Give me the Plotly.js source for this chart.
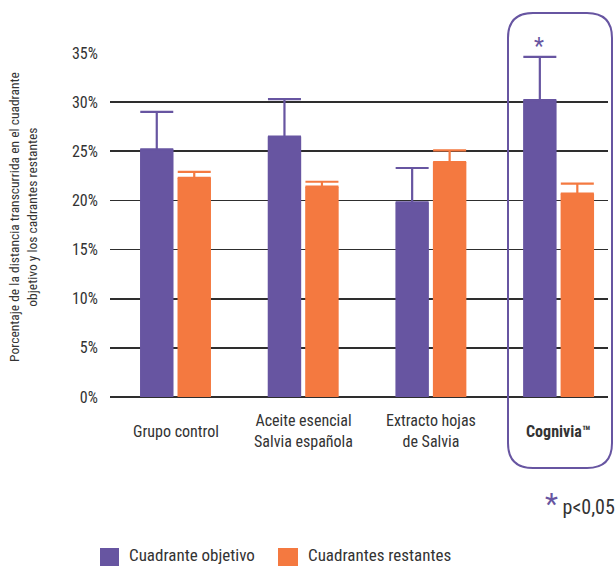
<!DOCTYPE html>
<html>
<head>
<meta charset="utf-8">
<script src="https://cdn.plot.ly/plotly-3.0.1.min.js"></script>
<style>
html,body{margin:0;padding:0;background:#fff;}
#chart{width:616px;height:567px;}
</style>
</head>
<body>
<div id="chart"></div>
<script>
var categories = ['Grupo control', 'Aceite esencial Salvia española', 'Extracto hojas de Salvia', 'Cognivia™'];
var categoryLabels = ['Grupo control', 'Aceite esencial<br>Salvia española', 'Extracto hojas<br>de Salvia', '<b>Cognivia™</b>'];
var objetivo = [25.2, 26.5, 19.8, 30.2];
var objetivoErr = [3.8, 3.8, 3.5, 4.4];
var restantes = [22.3, 21.4, 23.9, 20.7];
var restantesErr = [0.6, 0.5, 1.2, 1.0];
var seriesNames = ['Cuadrante objetivo', 'Cuadrantes restantes'];
var yTickVals = [0, 5, 10, 15, 20, 25, 30, 35];
var yTickText = ['0%', '5%', '10%', '15%', '20%', '25%', '30%', '35%'];
var yTitle = 'Porcentaje de la distancia transcurrida en el cuadrante<br>objetivo y los cadrantes restantes';

var PURPLE = '#6755a1';
var ORANGE = '#f47940';
var TXT = '#333333';
var FONT = 'Roboto Condensed, Liberation Sans Narrow, DejaVu Sans Condensed, Roboto, sans-serif';
var seriesColors = [PURPLE, ORANGE];

function zeros(n){ var a=[]; for(var i=0;i<n;i++) a.push(0); return a; }

var traces = [
  {type:'bar', name:seriesNames[0], x:categories, y:objetivo,
   marker:{color:PURPLE},
   error_y:{type:'data', array:objetivoErr, arrayminus:zeros(objetivoErr.length), symmetric:false, color:PURPLE, thickness:2.2, width:16.5},
   hoverinfo:'skip', showlegend:false},
  {type:'bar', name:seriesNames[1], x:categories, y:restantes,
   marker:{color:ORANGE},
   error_y:{type:'data', array:restantesErr, arrayminus:zeros(restantesErr.length), symmetric:false, color:ORANGE, thickness:2.2, width:16.5},
   hoverinfo:'skip', showlegend:false}
];

// plot area: left 110, right 608, top 53, bottom 397
var W=616, H=567, L=110, R=8, T=53, B=170;
var pw = W-L-R, ph = H-T-B;
function px(x){ return (x-L)/pw; }
function py(y){ return (H-B-y)/ph; }

var annotations = [];
for (var i=0;i<categories.length;i++){
  annotations.push({xref:'x', yref:'paper', x:categories[i], y:py(431), yanchor:'middle', xanchor:'center',
    text:categoryLabels[i], showarrow:false, font:{family:FONT, size:16, color:TXT}});
}
// y-axis title
annotations.push({xref:'paper', yref:'paper', x:px(23), y:py(217), xanchor:'center', yanchor:'middle',
  textangle:-90, text:yTitle, showarrow:false, font:{family:FONT, size:13.5, color:TXT}});
// significance star above Cognivia objetivo bar
annotations.push({xref:'x', yref:'paper', x:categories[3], xshift:-20, y:py(47),
  yanchor:'middle', xanchor:'center', text:'*', showarrow:false, font:{family:FONT, size:23, color:PURPLE}});
annotations.push({xref:'paper', yref:'paper', x:px(617), y:py(503), xanchor:'right', yanchor:'middle',
  text:'<span style="color:'+PURPLE+';font-size:30px">*</span> p&lt;0,05', showarrow:false,
  font:{family:FONT, size:20, color:TXT}});

// custom legend (squares + labels)
var legendSquares = [[100,119],[278,298]];
var legendTextX = [127, 306];
var shapes = [];
for (var k=0;k<seriesNames.length;k++){
  shapes.push({type:'rect', xref:'paper', yref:'paper', x0:px(legendSquares[k][0]), x1:px(legendSquares[k][1]),
    y0:py(566), y1:py(548), fillcolor:seriesColors[k], line:{width:0}});
  annotations.push({xref:'paper', yref:'paper', x:px(legendTextX[k]), y:py(555), xanchor:'left', yanchor:'middle',
    text:seriesNames[k], showarrow:false, font:{family:FONT, size:17, color:TXT}});
}

// rounded highlight box
var x0=px(508), x1=px(612), y0=py(468), y1=py(13);
var rx=25/pw, ry=25/ph;
var path = 'M'+(x0+rx)+','+y1+' L'+(x1-rx)+','+y1+' Q'+x1+','+y1+' '+x1+','+(y1-ry)+
  ' L'+x1+','+(y0+ry)+' Q'+x1+','+y0+' '+(x1-rx)+','+y0+
  ' L'+(x0+rx)+','+y0+' Q'+x0+','+y0+' '+x0+','+(y0+ry)+
  ' L'+x0+','+(y1-ry)+' Q'+x0+','+y1+' '+(x0+rx)+','+y1+' Z';
shapes.push({type:'path', xref:'paper', yref:'paper', path:path, line:{color:PURPLE, width:2}, fillcolor:'rgba(0,0,0,0)', layer:'above'});

var layout = {
  width:W, height:H,
  margin:{l:L, r:R, t:T, b:B},
  paper_bgcolor:'#fff', plot_bgcolor:'#fff',
  font:{family:FONT, color:TXT},
  barmode:'group', bargap:0.413, bargroupgap:0.107,
  showlegend:false,
  xaxis:{type:'category', range:[-0.513, 3.387], showticklabels:false, showgrid:false, zeroline:false, showline:false, ticks:'', fixedrange:true},
  yaxis:{range:[0,35], tickmode:'array', tickvals:yTickVals, ticktext:yTickText, showgrid:true, gridcolor:'#2e2e2e', gridwidth:1.6,
    zeroline:true, zerolinecolor:'#2e2e2e', zerolinewidth:1.6, showline:false,
    ticks:'outside', ticklen:8, tickcolor:'rgba(0,0,0,0)',
    tickfont:{family:FONT, size:16, color:TXT},
    automargin:false, fixedrange:true},
  shapes:shapes,
  annotations:annotations
};

Plotly.newPlot('chart', traces, layout, {displayModeBar:false, staticPlot:true});
</script>
</body>
</html>
